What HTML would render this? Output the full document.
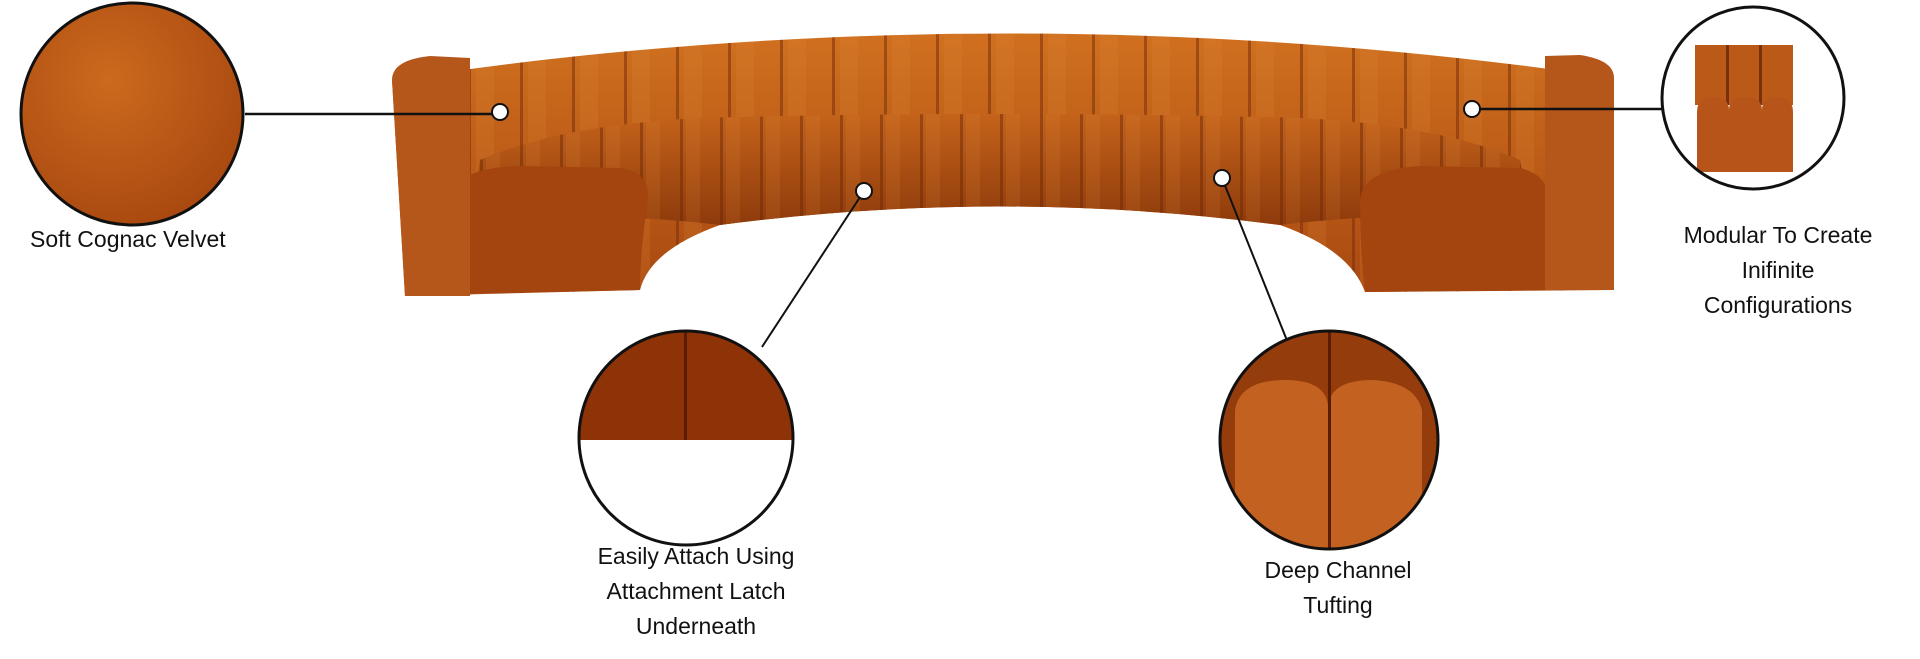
<!DOCTYPE html>
<html><head><meta charset="utf-8"><style>
html,body{margin:0;padding:0;background:#fff;}
body{width:1920px;height:659px;position:relative;overflow:hidden;font-family:"Liberation Sans",sans-serif;}
.t{position:absolute;color:#111;font-size:23px;line-height:35px;text-align:center;white-space:nowrap;}
</style></head><body>
<svg width="1920" height="659" style="position:absolute;left:0;top:0">
<defs>
<linearGradient id="back" x1="0" y1="0" x2="0" y2="1">
<stop offset="0" stop-color="#d0701f"/><stop offset="1" stop-color="#a84810"/></linearGradient>
<linearGradient id="seat" x1="0" y1="0" x2="0" y2="1">
<stop offset="0" stop-color="#c4631b"/><stop offset="1" stop-color="#8e3a0b"/></linearGradient>
<pattern id="ch" width="52" height="400" patternUnits="userSpaceOnUse">
<rect x="0" width="3" height="400" fill="#7a300a" opacity=".55"/>
<rect x="8" width="18" height="400" fill="#e08a3a" opacity=".18"/>
</pattern>
<pattern id="ch2" width="40" height="400" patternUnits="userSpaceOnUse">
<rect x="0" width="3" height="400" fill="#6e2a08" opacity=".5"/>
<rect x="6" width="14" height="400" fill="#e08a3a" opacity=".15"/>
</pattern>
<radialGradient id="lc" cx=".4" cy=".35" r=".7"><stop offset="0" stop-color="#cc6a1e"/><stop offset="1" stop-color="#a8480f"/></radialGradient>
<clipPath id="cbl"><circle cx="686" cy="438" r="107"/></clipPath>
<clipPath id="cbr"><circle cx="1329" cy="440" r="109"/></clipPath>
<clipPath id="cr"><circle cx="1753" cy="98" r="91"/></clipPath>
</defs>
<path d="M392,80 Q1000,-12 1614,78 L1614,290 L1365,292 Q1350,250 1280,225 Q1000,188 720,225 Q650,250 640,290 L405,296 Z" fill="url(#back)"/>
<path d="M392,80 Q1000,-12 1614,78 L1614,290 L1365,292 Q1350,250 1280,225 Q1000,188 720,225 Q650,250 640,290 L405,296 Z" fill="url(#ch)"/>
<path d="M480,160 Q560,125 700,118 Q1000,110 1300,118 Q1440,125 1520,160 L1530,220 Q1400,210 1280,225 Q1000,188 720,225 Q600,210 470,222 Z" fill="url(#seat)"/>
<path d="M480,160 Q560,125 700,118 Q1000,110 1300,118 Q1440,125 1520,160 L1530,220 Q1400,210 1280,225 Q1000,188 720,225 Q600,210 470,222 Z" fill="url(#ch2)"/>
<path d="M452,200 Q452,168 520,166 L620,168 Q650,172 648,200 Q640,250 640,290 L455,294 Z" fill="#a4440e"/>
<path d="M1360,200 Q1362,170 1420,166 L1520,168 Q1550,175 1550,205 L1552,290 L1365,292 Q1360,250 1360,200 Z" fill="#a4440e"/>
<path d="M392,80 Q392,60 430,56 L470,58 L470,296 L405,296 Z" fill="#b5561a"/>
<path d="M1614,78 Q1614,60 1580,55 L1545,56 L1545,290 L1614,290 Z" fill="#b5561a"/>
<line x1="245" y1="114" x2="500" y2="114" stroke="#111" stroke-width="2.5"/>
<line x1="1472" y1="109" x2="1662" y2="109" stroke="#111" stroke-width="2.5"/>
<line x1="864" y1="191" x2="762" y2="347" stroke="#111" stroke-width="2"/>
<line x1="1222" y1="178" x2="1288" y2="343" stroke="#111" stroke-width="2"/>
<circle cx="500" cy="112" r="8" fill="#fff" stroke="#111" stroke-width="2"/>
<circle cx="1472" cy="109" r="8" fill="#fff" stroke="#111" stroke-width="2"/>
<circle cx="864" cy="191" r="8" fill="#fff" stroke="#111" stroke-width="2"/>
<circle cx="1222" cy="178" r="8" fill="#fff" stroke="#111" stroke-width="2"/>
<circle cx="132" cy="114" r="111" fill="url(#lc)" stroke="#111" stroke-width="3"/>
<g clip-path="url(#cr)">
<rect x="1660" y="0" width="200" height="200" fill="#fff"/>
<rect x="1695" y="45" width="98" height="60" fill="#bb5a18"/>
<rect x="1726" y="45" width="3" height="60" fill="#7a300a"/><rect x="1759" y="45" width="3" height="60" fill="#7a300a"/>
<path d="M1697,112 Q1697,98 1712,97 Q1729,97 1729,110 Q1729,97 1745,97 Q1762,97 1762,110 Q1762,97 1778,97 Q1793,98 1793,112 L1793,172 L1697,172 Z" fill="#b6541a"/>
</g>
<circle cx="1753" cy="98" r="91" fill="none" stroke="#111" stroke-width="3"/>
<g clip-path="url(#cbl)">
<rect x="570" y="320" width="240" height="120" fill="#8e3208"/>
<rect x="684" y="320" width="3" height="120" fill="#5a1d04"/>
<rect x="570" y="440" width="240" height="120" fill="#fff"/>
</g>
<circle cx="686" cy="438" r="107" fill="none" stroke="#111" stroke-width="3"/>
<g clip-path="url(#cbr)">
<rect x="1210" y="320" width="240" height="240" fill="#953c0c"/>
<path d="M1235,560 L1235,410 Q1240,380 1285,380 Q1325,380 1328,405 Q1332,380 1372,380 Q1415,382 1422,410 L1422,560 Z" fill="#c26120"/>
<rect x="1328" y="320" width="3" height="240" fill="#5a1d04"/>
</g>
<circle cx="1329" cy="440" r="109" fill="none" stroke="#111" stroke-width="3"/>
</svg>
<div class="t" style="left:30px;top:222px;">Soft Cognac Velvet</div>
<div class="t" style="left:1658px;top:218px;width:240px;">Modular To Create<br>Inifinite<br>Configurations</div>
<div class="t" style="left:576px;top:539px;width:240px;">Easily Attach Using<br>Attachment Latch<br>Underneath</div>
<div class="t" style="left:1218px;top:553px;width:240px;">Deep Channel<br>Tufting</div>
</body></html>
